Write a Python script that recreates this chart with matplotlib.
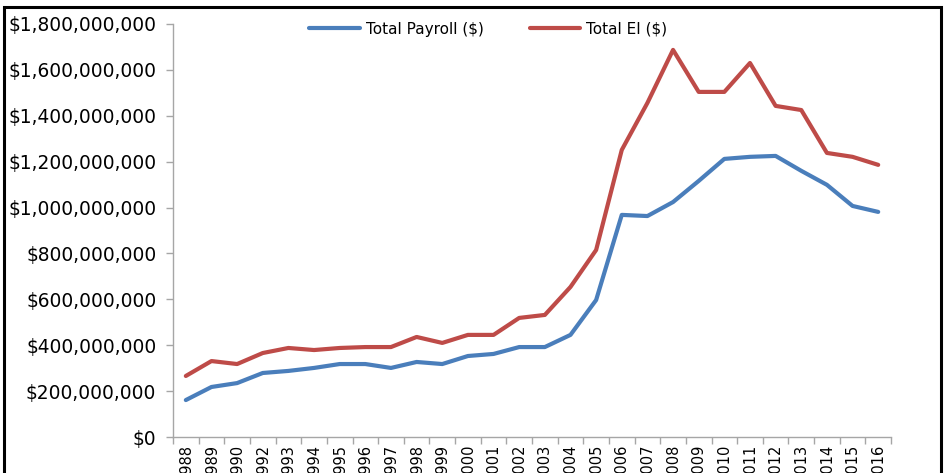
import matplotlib
matplotlib.use("Agg")
import matplotlib.pyplot as plt
from matplotlib.patches import Rectangle
from matplotlib.ticker import FuncFormatter, FixedLocator

years = ["1988", "1989", "1990", "1992", "1993", "1994", "1995", "1996",
         "1997", "1998", "1999", "2000", "2001", "2002", "2003", "2004",
         "2005", "2006", "2007", "2008", "2009", "2010", "2011", "2012",
         "2013", "2014", "2015", "2016"]

# values in $ millions
total_payroll = [161, 218, 235, 279, 288, 301, 318, 318, 301, 327, 318, 353,
                 362, 392, 392, 445, 597, 968, 963, 1024, 1116, 1212, 1221,
                 1225, 1160, 1099, 1007, 981]
total_ei = [266, 331, 318, 366, 388, 379, 388, 392, 392, 436, 410, 445, 445,
            519, 532, 654, 815, 1251, 1456, 1687, 1504, 1504, 1630, 1443,
            1425, 1238, 1221, 1186]

y_ticks = [0, 200, 400, 600, 800, 1000, 1200, 1400, 1600, 1800]

blue = "#4A7EBB"
red = "#BE4B48"
grey = "#A6A6A6"

fig = plt.figure(figsize=(9.48, 4.73), dpi=100)
ax = fig.add_axes([0.1825, 0.0761, 0.7574, 0.8732])

x = list(range(len(years)))
ax.plot(x, [v * 1e6 for v in total_payroll], color=blue, lw=3,
        label="Total Payroll ($)", solid_capstyle="round")
ax.plot(x, [v * 1e6 for v in total_ei], color=red, lw=3,
        label="Total EI ($)", solid_capstyle="round")

ax.set_xlim(-0.5, len(years) - 0.5)
ax.set_ylim(0, 1800e6)
ax.set_yticks([v * 1e6 for v in y_ticks])
ax.yaxis.set_major_formatter(FuncFormatter(lambda v, p: "${:,.0f}".format(v)))

ax.set_xticks(x)
ax.set_xticklabels(years, rotation=90, va="top", ha="center")
ax.xaxis.set_minor_locator(FixedLocator([i - 0.5 for i in range(len(years) + 1)]))

ax.tick_params(axis="y", length=5, width=1, color=grey, pad=7, labelsize=13.4)
ax.tick_params(axis="x", which="major", length=0, pad=5, labelsize=10.5)
ax.tick_params(axis="x", which="minor", length=5, width=1, color=grey)

for side in ["top", "right"]:
    ax.spines[side].set_visible(False)
for side in ["left", "bottom"]:
    ax.spines[side].set_color(grey)
    ax.spines[side].set_linewidth(1)

ax.legend(loc="center", bbox_to_anchor=(0.515, 0.938), bbox_transform=fig.transFigure,
          ncol=2, frameon=False, fontsize=11, handlelength=3.3,
          handletextpad=0.4, columnspacing=3.0)

# black frame round the chart, cut off at the bottom like the reference
fig.patches.append(Rectangle((0.0045, -0.05), 0.9885, 1.035, transform=fig.transFigure,
                             fill=False, edgecolor="black", linewidth=2.2))

fig.savefig("out.png", dpi=100)
